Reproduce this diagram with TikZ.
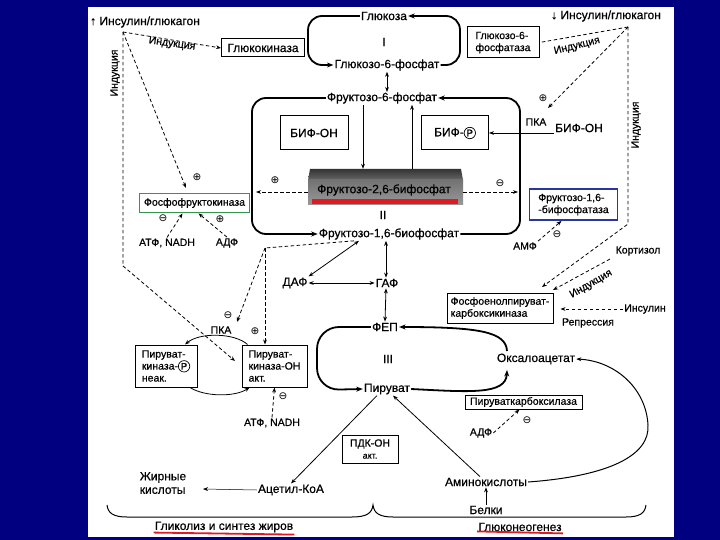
\documentclass[tikz,border=0pt]{standalone}
\usepackage{fontspec}
\setmainfont{Liberation Sans}[FakeBold=0.6]
\newfontfamily\symf{DejaVu Sans}
\usetikzlibrary{arrows.meta}
\definecolor{navy}{RGB}{0,0,128}
\definecolor{pfkgreen}{RGB}{50,150,80}
\definecolor{fbpblue}{RGB}{40,55,160}
\definecolor{ulred}{RGB}{225,25,35}
\newcommand\pl{{\symf\fontsize{10.5}{11}\selectfont ⊕}}
\newcommand\mi{{\symf\fontsize{10.5}{11}\selectfont ⊖}}
\newcommand\cP{\tikz[baseline=(cpn.base),x=1pt,y=1pt]\node[draw,circle,minimum width=0pt,minimum height=0pt,inner sep=0.8pt,line width=0.7pt,font=\fontsize{9.5}{10}\selectfont](cpn){P};}
\begin{document}
\begin{tikzpicture}[x=1pt,y=-1pt,
  L/.style={font=\fontsize{12}{13.5}\selectfont, inner sep=1pt},
  M/.style={font=\fontsize{10.5}{12}\selectfont, inner sep=1pt},
  sym/.style={inner sep=0pt},
  bx/.style={draw, line width=1pt, inner sep=2pt},
  arr/.style={line width=0.8pt, -{Stealth[length=5pt,width=3.8pt]}},
  darr/.style={line width=0.8pt, {Stealth[length=5pt,width=3.8pt]}-{Stealth[length=5pt,width=3.8pt]}},
  dsh/.style={dash pattern=on 3.5pt off 2.5pt, line width=0.8pt},
  lp/.style={line width=1.8pt, rounded corners=14pt, -{Stealth[length=6.5pt,width=5pt]}},
]
\useasboundingbox (0,0) rectangle (720,540);
\fill[navy] (0,0) rectangle (720,540);
\fill[white] (88,7) rectangle (674,537);

% ---------- top: glucose ----------
\node[L] (ins1) at (145,22) {↑ Инсулин/глюкагон};
\node[L] (ins2) at (606,16) {↓ Инсулин/глюкагон};
\node[L] (glc) at (384,16) {Глюкоза};
\node[L] (rI) at (384,42) {I};
\node[L] (g6p) at (387,65) {Глюкозо-6-фосфат};
\node[bx,L,minimum width=83,minimum height=18] (gk) at (263,48) {Глюкокиназа};
\node[bx,M,align=left,minimum width=72,minimum height=31] (g6pase) at (503,42.5) {Глюкозо-6-\\фосфатаза};
\node[M,rotate=90] (ind1) at (115,73) {Индукция};
\node[M,rotate=-8] (ind2) at (172,44) {Индукция};
\node[M,rotate=14] (ind3) at (577,46) {Индукция};
\node[M,rotate=90] (ind4) at (636,125) {Индукция};

\draw[lp] (glc.west) -- (308,16) -- (308,65) -- (g6p.west);
\draw[lp] (g6p.east) -- (460,65) -- (460,16) -- (glc.east);
\draw[darr] (g6p.south) -- (g6p.south |- 0,92);

% ---------- II ----------
\node[L] (f6p) at (382,98) {Фруктозо-6-фосфат};
\node[bx,L,minimum width=68,minimum height=34] (bifon) at (314,133) {БИФ-ОН};
\node[bx,L,minimum width=67,minimum height=34] (bifp) at (455,133) {БИФ-\cP};
\node[M] (pka1) at (536,122) {ПКА};
\node[L] (bifon2) at (579,128) {БИФ-ОН};
\node[sym] (p1) at (543,98) {\pl};

\shade[top color=black!80, bottom color=black!60] (310,169) -- (461,169) -- (463,180) -- (308,180) -- cycle;
\shade[top color=black!55, bottom color=black!40] (308,180) rectangle (463,205);
\fill[ulred] (312,199) rectangle (458,204);
\node[minimum width=155,minimum height=36,inner sep=0pt] (f26box) at (385.5,187) {};
\node[L] (f26) at (384,190) {Фруктозо-2,6-бифосфат};
\node[L] (rII) at (383,215) {II};
\node[L] (f16) at (389,234) {Фруктозо-1,6-биофосфат};

\draw[arr] ([xshift=-19pt]f6p.south) -- ([xshift=-22.5pt]f26box.north);
\draw[arr] ([xshift=26.5pt]f26box.north) -- ([xshift=30pt]f6p.south);
\draw[lp] (f6p.west) -- (252,98) -- (252,234) -- (f16.west);
\draw[lp] (f16.east) -- (520,234) -- (520,98) -- (f6p.east);
\draw[arr] (bifon2.west |- 0,133) -- (bifp.east);

\coordinate (pfkr) at (256,192);
\coordinate (fbpl) at (518,192);
\draw[dsh,arr] (f26box.west |- 0,192) -- (pfkr);
\draw[dsh,arr] (f26box.east |- 0,192) -- (fbpl);
\node[sym] (p2) at (275,180) {\pl};
\node[sym] (m1) at (500,183) {\mi};

% PFK
\node[bx,M,draw=pfkgreen,line width=1.8pt,minimum width=110,minimum height=19] (pfk) at (194.5,203) {Фосфофруктокиназа};
\node[M] (atp1) at (167,243) {АТФ, NADH};
\node[M] (adp1) at (227,243) {АДФ};
\node[sym] (m2) at (163,218) {\mi};
\node[sym] (p3) at (220,219) {\pl};
\node[sym] (p4) at (197,177) {\pl};
\draw[dsh,arr] (atp1.north) -- ([xshift=-12pt]pfk.south);
\draw[dsh,arr] (adp1.north) -- ([xshift=4pt]pfk.south);

% FBPase
\node[bx,M,draw=fbpblue,line width=1.8pt,align=left,minimum width=88,minimum height=31] (fbp) at (573.5,204.5) {Фруктозо-1,6-\\-бифосфатаза};
\node[M] (amf) at (525,246) {АМФ};
\node[sym] (m3) at (557,234) {\mi};
\draw[dsh,arr] (amf.north east) -- ([xshift=-12pt]fbp.south);

% left insulin lines
\coordinate (lt) at (123,32);
\coordinate (ltb) at (123,266);
\coordinate (pfkin) at (186,188);
\coordinate (pkonin) at (235,361);
\draw[dsh,arr] (lt) -- (gk.west);
\draw[dsh,arr] (lt) -- (pfkin);
\draw[dsh,arr] (lt) -- (ltb) -- (pkonin);

% right insulin lines
\coordinate (rt) at (628,27);
\coordinate (rtb) at (628,224);
\coordinate (pkain) at (548,108);
\coordinate (pepin1) at (542,287);
\coordinate (pepin2) at (553,290);
\coordinate (kortout) at (610,259);
\draw[dsh] (rt) -- (g6pase.east);
\draw[dsh,arr] (rt) -- (pkain);
\draw[dsh,arr] (rt) -- (rtb) -- (pepin1);
\draw[dsh,arr] (kortout) -- (pepin2);

\node[M] (kort) at (638,251) {Кортизол};
\node[M,rotate=30] (ind5) at (591,284) {Индукция};
\node[bx,M,align=left,minimum width=106,minimum height=30,inner sep=2pt] (pepck) at (500,308) {Фосфоенолпируват-\\карбоксикиназа};
\node[M] (insl) at (645,309) {Инсулин};
\node[M] (repr) at (588,323) {Репрессия};
\draw[dsh,arr] (insl.west) -- ([xshift=7pt]pepck.east |- insl.west);

% ---------- trioses ----------
\node[L] (daf) at (295,283) {ДАФ};
\node[L] (gaf) at (387,283) {ГАФ};
\node[L] (fep) at (385,327) {ФЕП};
\node[L] (rIII) at (388,359) {III};
\node[L] (pyr) at (387,389) {Пируват};
\node[L] (oxa) at (536,359) {Оксалоацетат};
\draw[darr] (daf.east) -- (gaf.west);
\draw[darr] ([xshift=-30pt]f16.south) -- (daf.north east);
\draw[darr] ([xshift=-3pt]f16.south) -- ([xshift=-1pt]gaf.north);
\draw[darr] ([xshift=-1pt]gaf.south) -- (fep.north);

\draw[lp,rounded corners=22pt] (fep.west) -- (317,327) -- (317,390) -- (pyr.west);
\draw[line width=1.8pt,-{Stealth[length=6.5pt,width=5pt]}] (pyr.east) .. controls (470,392) and (506,395) .. (507,370);
\draw[line width=1.8pt,-{Stealth[length=6.5pt,width=5pt]}] (507,351) .. controls (506,332) and (480,327) .. (fep.east);

\node[bx,M,minimum width=117,minimum height=14,inner sep=1pt] (pc) at (523.5,402) {Пируваткарбоксилаза};
\node[M] (adp2) at (481,433) {АДФ};
\node[sym] (m4) at (527,420) {\mi};
\draw[dsh,arr] (adp2.east) -- ([xshift=-4pt]pc.south);

% pyruvate kinase
\node[bx,M,align=left,minimum width=62,minimum height=42] (pkp) at (166,366) {Пируват-\\киназа-\cP\\неак.};
\node[bx,M,align=left,minimum width=65,minimum height=42] (pkon) at (274.5,366) {Пируват-\\киназа-ОН\\акт.};
\node[M] (pka2) at (221,330) {ПКА};
\node[M] (atp2) at (272,423) {АТФ, NADH};
\node[sym] (m5) at (228,315) {\mi};
\node[sym] (p5) at (255,331) {\pl};
\node[sym] (m6) at (283,396) {\mi};
\draw[arr] ([xshift=-27pt]pkon.north) .. controls (235,333) and (200,332) .. ([xshift=19pt]pkp.north);
\draw[arr] ([xshift=24pt]pkp.south) .. controls (205,397) and (235,397) .. ([xshift=-25pt]pkon.south);
\draw[dsh,arr] (atp2.north) -- (pkon.south);

\coordinate (fbc) at (265,248);
\coordinate (pkain2) at (237,322);
\draw[dsh] ([xshift=-35pt]f16.south) -- (fbc);
\draw[dsh,arr] (fbc) -- (pkon.north -| fbc);
\draw[dsh,arr] (fbc) -- (pkain2);

% ---------- bottom ----------
\node[bx,M,align=center,minimum width=56,minimum height=28,inner sep=1pt] (pdk) at (370,449) {ПДК-ОН\\{\fontsize{9}{10}\selectfont акт.}};
\node[L] (acoa) at (291,490) {Ацетил-КоА};
\node[L,align=left] (fa) at (163,483) {Жирные\\кислоты};
\node[L] (amino) at (486,482) {Аминокислоты};
\node[L] (belki) at (486,510) {Белки};
\coordinate (faend) at (203,489);
\draw[arr] ([xshift=-10pt]pyr.south) -- (acoa.north);
\draw[arr] ([xshift=-6pt]amino.north) -- ([xshift=6pt]pyr.south);
\draw[arr, line width=0.5pt] (acoa.west) -- (faend);
\draw[arr] (belki.north) -- (amino.south);
\draw[line width=1pt,-{Stealth[length=5pt,width=3.8pt]}] (amino.east) .. controls (610,476) and (650,455) .. (648,425) .. controls (646,388) and (615,361) .. (oxa.east);

% brackets
\draw[line width=1pt] (107,505) .. controls (108,513) and (113,517) .. (127,517) -- (352,517) .. controls (367,517) and (372,513) .. (373,505)
  .. controls (374,513) and (379,517) .. (393,517) -- (626,517) .. controls (640,517) and (645,513) .. (646,505);
\node[L] (glyc) at (224,527) {Гликолиз и синтез жиров};
\node[L] (gng) at (520,527) {Глюконеогенез};
\draw[ulred,line width=1.8pt] (glyc.south west) ++(0,-1) -- ([yshift=-1pt]glyc.south east);
\draw[ulred,line width=1.8pt] (gng.south west) ++(0,-1) -- ([yshift=-1pt]gng.south east);
\end{tikzpicture}
\end{document}
